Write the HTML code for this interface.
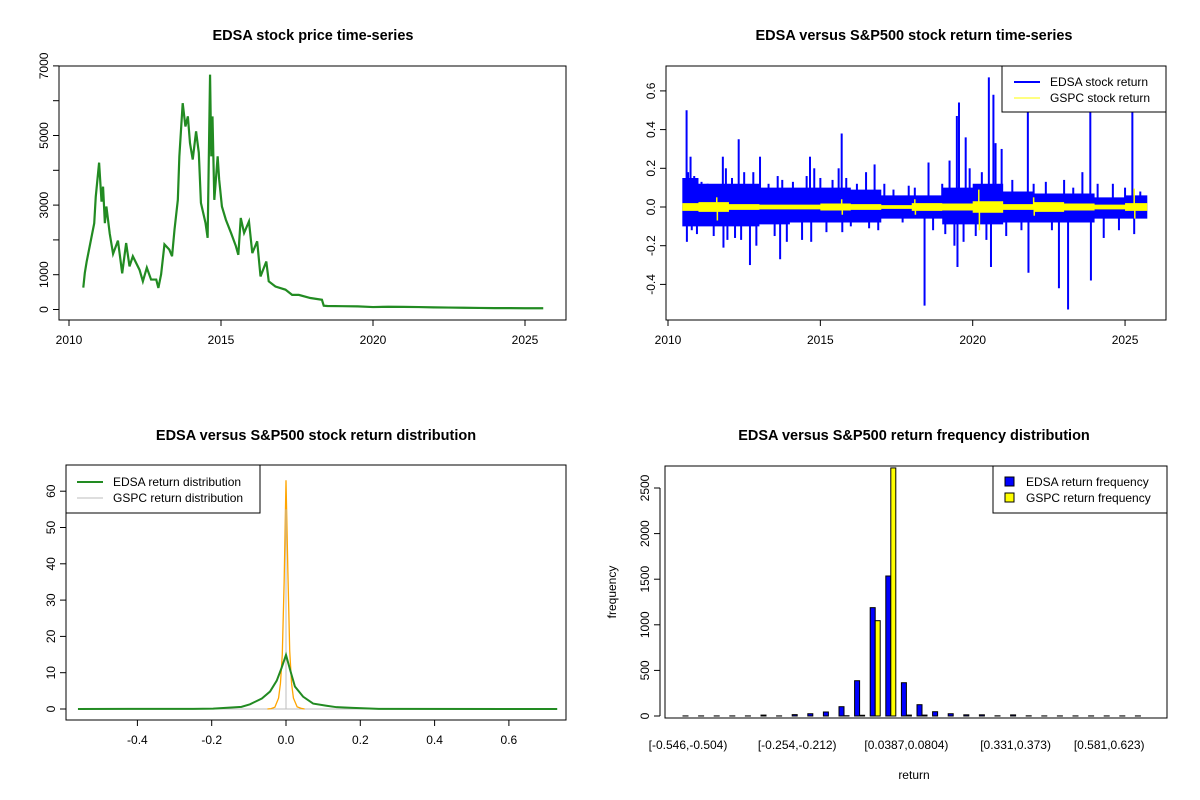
<!DOCTYPE html>
<html><head><meta charset="utf-8"><style>
body{margin:0;background:#fff}
svg{display:block;font-family:"Liberation Sans",Arial,sans-serif}
.t{font-weight:bold;font-size:14.5px;text-anchor:middle}
.tk{font-size:12px;text-anchor:middle}
</style></head><body>
<svg id="c" width="1200" height="800" viewBox="0 0 1200 800" xmlns="http://www.w3.org/2000/svg">
<rect width="1200" height="800" fill="#fff"/>
<text class="t" x="313" y="40">EDSA stock price time-series</text>
<text class="t" x="914" y="40">EDSA versus S&amp;P500 stock return time-series</text>
<text class="t" x="316" y="440">EDSA versus S&amp;P500 stock return distribution</text>
<text class="t" x="914" y="440">EDSA versus S&amp;P500 return frequency distribution</text>
<g id="g1"></g>
<g id="g2"></g>
<g id="g3"></g>
<g id="g4"></g>
</svg>
<script>
// Panel 1 data
const priceYears=[2010.47,2010.52,2010.58,2010.83,2010.88,2010.99,2011.07,2011.12,2011.18,2011.23,2011.34,2011.45,2011.61,2011.75,2011.88,2011.99,2012.10,2012.32,2012.43,2012.56,2012.70,2012.87,2012.94,2013.03,2013.14,2013.30,2013.39,2013.47,2013.58,2013.63,2013.74,2013.83,2013.91,2013.98,2014.07,2014.18,2014.27,2014.34,2014.49,2014.56,2014.64,2014.68,2014.72,2014.78,2014.89,2014.94,2015.03,2015.16,2015.33,2015.49,2015.57,2015.65,2015.76,2015.92,2016.03,2016.19,2016.30,2016.49,2016.57,2016.79,2017.12,2017.34,2017.56,2017.94,2018.32,2018.38,2018.5,2019,2019.5,2020,2020.5,2021,2021.5,2022,2022.5,2023,2023.5,2024,2024.5,2025,2025.6];
const priceValues=[630,1050,1370,2480,3240,4220,3100,3530,2480,2960,2180,1600,1980,1040,1910,1240,1530,1140,810,1200,860,860,620,1010,1870,1720,1530,2290,3150,4400,5930,5260,5550,4780,4310,5120,4500,3060,2490,2060,6750,4400,5550,3150,4400,3730,2960,2580,2200,1820,1570,2630,2200,2530,1620,1960,950,1380,810,660,570,420,420,330,280,110,100,95,90,70,80,75,70,60,55,50,45,40,40,35,35];
const priceTicks=[0,1000,2000,3000,4000,5000,6000,7000];
const priceTickLabels=["0","1000","","3000","","5000","","7000"];
const yearTicks=[2010,2015,2020,2025];
// Panel 2 data
const bandYears=[2010,2011,2012,2013,2014,2015,2016,2017,2018,2019,2020,2021,2022,2023,2024,2025];
const edsaUp=[0.15,0.12,0.12,0.10,0.10,0.10,0.09,0.06,0.06,0.10,0.12,0.08,0.07,0.07,0.05,0.06];
const edsaDown=[-0.10,-0.10,-0.10,-0.09,-0.08,-0.08,-0.08,-0.06,-0.06,-0.09,-0.09,-0.08,-0.08,-0.08,-0.06,-0.06];
const gspcUp=[0.02,0.025,0.015,0.012,0.012,0.018,0.015,0.01,0.02,0.018,0.03,0.015,0.025,0.018,0.012,0.02];
const gspcDown=[-0.02,-0.025,-0.015,-0.012,-0.012,-0.018,-0.015,-0.01,-0.02,-0.018,-0.03,-0.015,-0.025,-0.018,-0.012,-0.02];
const spikeYears=[2010.52,2010.61,2010.62,2010.66,2010.74,2010.78,2010.86,2010.95,2011.1,2011.3,2011.5,2011.62,2011.8,2011.82,2011.9,2011.95,2012.1,2012.2,2012.32,2012.4,2012.5,2012.69,2012.8,2012.9,2013.02,2013.3,2013.5,2013.6,2013.68,2013.75,2013.9,2014.1,2014.4,2014.55,2014.66,2014.7,2014.8,2015.0,2015.2,2015.4,2015.6,2015.7,2015.72,2015.85,2016.0,2016.2,2016.5,2016.6,2016.78,2016.9,2017.1,2017.4,2017.7,2017.9,2018.1,2018.42,2018.55,2018.7,2019.0,2019.1,2019.24,2019.4,2019.48,2019.5,2019.55,2019.7,2019.77,2019.9,2020.1,2020.3,2020.45,2020.53,2020.6,2020.68,2020.75,2020.95,2021.1,2021.3,2021.6,2021.81,2021.83,2022.0,2022.4,2022.6,2022.83,2023.0,2023.13,2023.3,2023.6,2023.86,2023.88,2024.1,2024.3,2024.6,2024.8,2025.0,2025.24,2025.3,2025.5];
const spikeValues=[0.14,0.50,-0.18,0.18,0.26,-0.12,0.16,-0.14,0.13,0.12,-0.15,0.11,0.26,-0.21,0.20,-0.17,0.15,-0.16,0.35,-0.17,0.18,-0.30,0.18,-0.2,0.26,0.12,-0.15,0.16,-0.27,0.14,-0.18,0.13,-0.17,0.16,0.26,-0.18,0.2,0.15,-0.13,0.14,0.2,0.38,-0.13,0.15,-0.1,0.12,0.18,-0.11,0.22,-0.12,0.12,0.09,-0.08,0.11,0.1,-0.51,0.23,-0.12,0.12,-0.14,0.24,-0.2,0.47,-0.31,0.54,-0.18,0.36,0.2,-0.15,0.18,-0.17,0.67,-0.31,0.58,0.33,0.3,-0.15,0.14,-0.12,0.58,-0.34,0.12,0.13,-0.12,-0.42,0.14,-0.53,0.1,0.18,0.49,-0.38,0.12,-0.16,0.12,-0.12,0.1,0.50,-0.14,0.08];
const gspcSpikeYears=[2011.6,2011.62,2015.7,2015.72,2018.1,2018.12,2020.2,2020.22,2022.0,2022.02,2025.3,2025.32];
const gspcSpikeValues=[0.05,-0.07,0.04,-0.04,0.04,-0.04,0.09,-0.12,0.05,-0.045,0.095,-0.06];
const retTicks=[-0.4,-0.2,0,0.2,0.4,0.6];
const retTickLabels=["-0.4","-0.2","0.0","0.2","0.4","0.6"];
// Panel 3 data
const edsaDensX=[-0.56,-0.25,-0.196,-0.12,-0.097,-0.065,-0.043,-0.025,-0.012,0,0.011,0.024,0.046,0.073,0.109,0.136,0.18,0.25,0.73];
const edsaDensY=[0,0.05,0.1,0.6,1.3,2.9,4.8,7.8,11.3,14.9,10.8,6.2,3.4,1.5,0.9,0.5,0.3,0.05,0];
const gspcDensX=[-0.05,-0.04,-0.03,-0.02,-0.015,-0.01,-0.005,0,0.005,0.01,0.015,0.02,0.03,0.04,0.05];
const gspcDensY=[0,0.1,0.5,3,7,15,35,63,38,16,7,3,0.6,0.2,0];
const densTicksX=[-0.4,-0.2,0,0.2,0.4,0.6];
const densTickLabelsX=["-0.4","-0.2","0.0","0.2","0.4","0.6"];
const densTicksY=[0,10,20,30,40,50,60];
// Panel 4 data
const binLabels=["[-0.546,-0.504)","[-0.254,-0.212)","[0.0387,0.0804)","[0.331,0.373)","[0.581,0.623)"];
const binLabelIdx=[0,7,14,21,27];
const edsaFreq=[1,1,1,1,1,10,1,15,25,44,102,387,1188,1535,365,124,47,25,13,13,2,12,2,1,1,1,1,1,1,1];
const gspcFreq=[0,0,0,0,0,0,0,0,0,0,3,8,1045,2720,10,10,0,0,0,0,0,0,0,0,0,0,0,0,0,0];
const freqTicks=[0,500,1000,1500,2000,2500];

const NS="http://www.w3.org/2000/svg";
function mk(parent,tag,attrs,text){const e=document.createElementNS(NS,tag);for(const k in attrs)e.setAttribute(k,attrs[k]);if(text!==undefined)e.textContent=text;parent.appendChild(e);return e;}
function box(g,x1,y1,x2,y2){const r=mk(g,'rect',{x:x1,y:y1,width:x2-x1,height:y2-y1,fill:'none',stroke:'#000','stroke-width':1});

}
function yAxis(g,x,ticks,labels,py,name){for(let i=0;i<ticks.length;i++){const y=py(ticks[i]);mk(g,'line',{x1:x-6,x2:x,y1:y,y2:y,stroke:'#000'});
if(labels[i]){const t=mk(g,'text',{class:'tk',x:x-11,y:y,transform:`rotate(-90 ${x-11} ${y})`},labels[i]);

}}
mk(g,'line',{x1:x,x2:x,y1:py(ticks[0]),y2:py(ticks[ticks.length-1]),stroke:'#000'});}
function xAxis(g,y,ticks,labels,px,name){for(let i=0;i<ticks.length;i++){const x=px(ticks[i]);mk(g,'line',{x1:x,x2:x,y1:y,y2:y+6,stroke:'#000'});
const t=mk(g,'text',{class:'tk',x:x,y:y+24},labels[i]);

}
mk(g,'line',{x1:px(ticks[0]),x2:px(ticks[ticks.length-1]),y1:y,y2:y,stroke:'#000'});}

// Panel 1
(function(){const g=document.getElementById('g1');
const px=v=>69+(v-2010)*30.4, py=v=>309.5-v*0.0348;
const pts=priceYears.map((y,i)=>px(y)+','+py(priceValues[i])).join(' ');
const l=mk(g,'polyline',{points:pts,fill:'none',stroke:'#228B22','stroke-width':2.2,'stroke-linejoin':'miter'});


box(g,59,66,566,320);
yAxis(g,59,priceTicks,priceTickLabels,py,'price-y');
xAxis(g,320,yearTicks,yearTicks.map(String),px,'price-x');})();

// Panel 2
(function(){const g=document.getElementById('g2');
const px=v=>668+(v-2010)*30.47, py=v=>207-v*193.5;
const y0=2010.47,y1=2025.73;
function band(up,down,color,name){const top=[],bot=[];
for(let i=0;i<bandYears.length;i++){const a=Math.max(y0,bandYears[i]),b=Math.min(y1,bandYears[i]+1);
top.push(px(a)+','+py(up[i]));top.push(px(b)+','+py(up[i]));
bot.push(px(a)+','+py(down[i]));bot.push(px(b)+','+py(down[i]));}
bot.reverse();
const p=mk(g,'polygon',{points:top.concat(bot).join(' '),fill:color});

}
band(edsaUp,edsaDown,'#0000FF','edsa-return-band');
for(let i=0;i<spikeYears.length;i++){const x=px(spikeYears[i]);
const s=mk(g,'line',{x1:x,x2:x,y1:py(0),y2:py(spikeValues[i]),stroke:'#0000FF','stroke-width':2});

}
band(gspcUp,gspcDown,'#FFFF00','gspc-return-band');
for(let i=0;i<gspcSpikeYears.length;i++){const x=px(gspcSpikeYears[i]);
const s=mk(g,'line',{x1:x,x2:x,y1:py(0),y2:py(gspcSpikeValues[i]),stroke:'#FFFF00','stroke-width':1.5});

}
box(g,666,66,1166,320);
yAxis(g,666,retTicks,retTickLabels,py,'return-y');
xAxis(g,320,yearTicks,yearTicks.map(String),px,'return-x');
const lg=mk(g,'g',{});


mk(lg,'rect',{x:1002,y:66,width:164,height:46,fill:'#fff',stroke:'#000'});
mk(lg,'line',{x1:1014,x2:1040,y1:82,y2:82,stroke:'#0000FF','stroke-width':2});
mk(lg,'line',{x1:1014,x2:1040,y1:98,y2:98,stroke:'#FFFF00','stroke-width':1});
mk(lg,'text',{x:1050,y:86,'font-size':12},'EDSA stock return');
mk(lg,'text',{x:1050,y:102,'font-size':12},'GSPC stock return');})();

// Panel 3
(function(){const g=document.getElementById('g3');
const px=v=>286+v*371.5, py=v=>709-v*3.63;
mk(g,'line',{x1:px(-0.56),x2:px(0.73),y1:py(0),y2:py(0),stroke:'#bebebe'});
const o=mk(g,'polyline',{points:gspcDensX.map((x,i)=>px(x)+','+py(gspcDensY[i])).join(' '),fill:'none',stroke:'#FFA500','stroke-width':1.3});


const gr=mk(g,'line',{x1:px(0),x2:px(0),y1:py(0),y2:py(55),stroke:'#bebebe','stroke-width':1});


const e=mk(g,'polyline',{points:edsaDensX.map((x,i)=>px(x)+','+py(edsaDensY[i])).join(' '),fill:'none',stroke:'#228B22','stroke-width':2});


box(g,66,465,566,720);
yAxis(g,66,densTicksY,densTicksY.map(String),py,'density-y');
xAxis(g,720,densTicksX,densTickLabelsX,px,'density-x');
const lg=mk(g,'g',{});


mk(lg,'rect',{x:66,y:465,width:194,height:48,fill:'#fff',stroke:'#000'});
mk(lg,'line',{x1:77,x2:103,y1:482,y2:482,stroke:'#228B22','stroke-width':2});
mk(lg,'line',{x1:77,x2:103,y1:498,y2:498,stroke:'#bebebe','stroke-width':1});
mk(lg,'text',{x:113,y:486,'font-size':12},'EDSA return distribution');
mk(lg,'text',{x:113,y:502,'font-size':12},'GSPC return distribution');})();

// Panel 4
(function(){const g=document.getElementById('g4');
const bx=i=>683+i*15.6, py=v=>716-v*0.0912;
const top=466;
for(let i=0;i<edsaFreq.length;i++){const y=Math.max(top,py(edsaFreq[i]));
const r=mk(g,'rect',{x:bx(i),y:y,width:5,height:py(0)-y,fill:'#0000FF',stroke:'#000','stroke-width':1});


const y2=Math.max(top,py(gspcFreq[i]));
const r2=mk(g,'rect',{x:bx(i)+5,y:y2,width:5,height:py(0)-y2,fill:'#FFFF00',stroke:'#000','stroke-width':1});

}
box(g,665,466,1167,718);
yAxis(g,660,freqTicks,freqTicks.map(String),py,'frequency-y');
for(let k=0;k<binLabels.length;k++){const t=mk(g,'text',{class:'tk',x:bx(binLabelIdx[k])+5,y:749},binLabels[k]);

}
const xt=mk(g,'text',{class:'tk',x:914,y:779},'return');


const yt=mk(g,'text',{class:'tk',x:616,y:592,transform:'rotate(-90 616 592)'},'frequency');


const lg=mk(g,'g',{});


mk(lg,'rect',{x:993,y:466,width:174,height:47,fill:'#fff',stroke:'#000'});
mk(lg,'rect',{x:1005,y:477,width:9,height:9,fill:'#0000FF',stroke:'#000'});
mk(lg,'rect',{x:1005,y:493,width:9,height:9,fill:'#FFFF00',stroke:'#000'});
mk(lg,'text',{x:1026,y:486,'font-size':12},'EDSA return frequency');
mk(lg,'text',{x:1026,y:502,'font-size':12},'GSPC return frequency');})();
</script>
</body></html>
